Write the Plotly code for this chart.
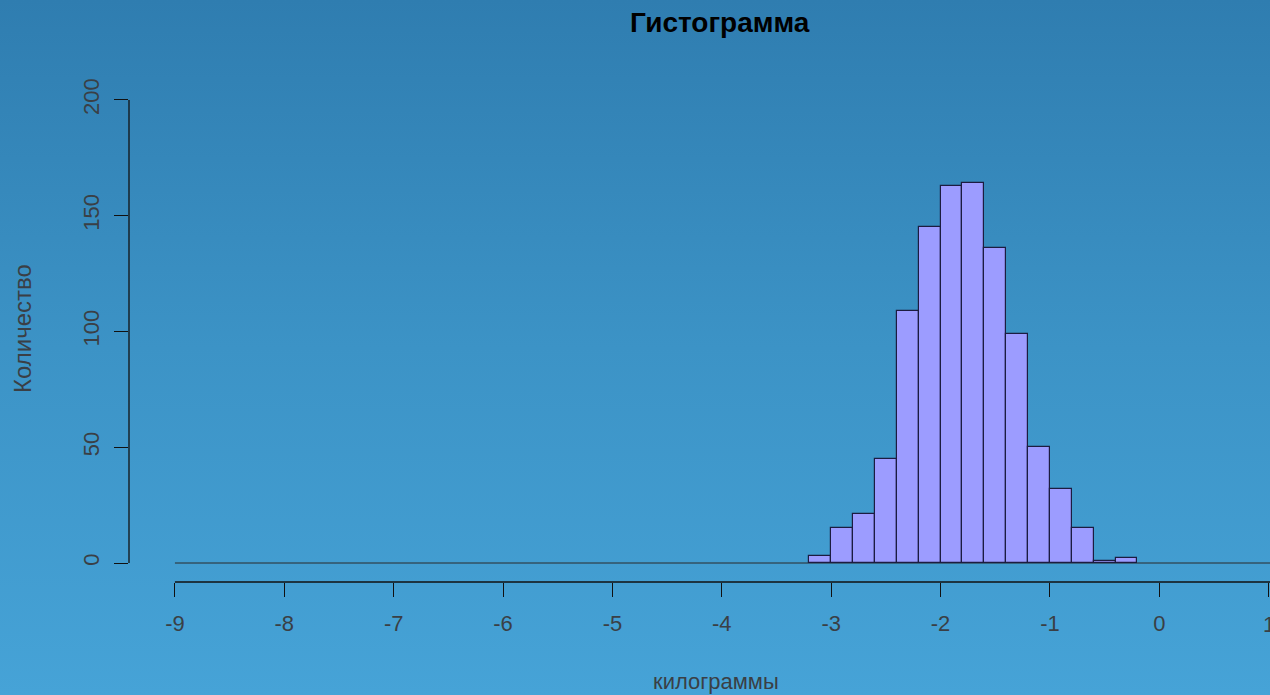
import base64
import plotly.graph_objects as go

# ---- data ----
bin_left_edges = [-3.2, -3.0, -2.8, -2.6, -2.4, -2.2, -2.0, -1.8, -1.6, -1.4, -1.2, -1.0, -0.8, -0.6, -0.4]
bin_width = 0.2
counts = [3, 15, 21, 45, 109, 145, 163, 164, 136, 99, 50, 32, 15, 1, 2]
x_ticks = [-9, -8, -7, -6, -5, -4, -3, -2, -1, 0, 1]
x_tick_labels = ["-9", "-8", "-7", "-6", "-5", "-4", "-3", "-2", "-1", "0", "1"]
y_ticks = [0, 50, 100, 150, 200]
y_tick_labels = ["0", "50", "100", "150", "200"]
hist_start = -9

title_text = "Гистограмма"
x_title = "килограммы"
y_title = "Количество"

# ---- layout geometry ----
W, H = 1270, 695
ML, MR, MT, MB = 129, 0, 90, 113
PW, PH = W - ML - MR, H - MT - MB
x_range = [-9.42, 1.012]
y_range = [-8.2, 204.3]

centers = [e + bin_width / 2 for e in bin_left_edges]

fig = go.Figure()
fig.add_trace(go.Bar(
    x=centers, y=counts, width=[bin_width] * len(counts),
    marker=dict(color="#9c9cff", line=dict(color="#1c1c40", width=1.2)),
    hoverinfo="x+y", showlegend=False,
))

# gradient background
svg = (
    f'<svg xmlns="http://www.w3.org/2000/svg" width="{W}" height="{H}" '
    f'viewBox="0 0 {W} {H}" preserveAspectRatio="none">'
    '<defs><linearGradient id="g" x1="0" y1="0" x2="0" y2="1">'
    '<stop offset="0" stop-color="#2f7db0"/>'
    '<stop offset="0.5" stop-color="#3c93c6"/>'
    '<stop offset="1" stop-color="#46a3d7"/>'
    '</linearGradient></defs>'
    f'<rect width="{W}" height="{H}" fill="url(#g)"/></svg>'
)
src = "data:image/svg+xml;base64," + base64.b64encode(svg.encode()).decode()

shapes = [
    # zero line of the histogram (empty bins)
    dict(type="line", xref="x", yref="y", x0=hist_start, x1=x_range[1], y0=0, y1=0,
         line=dict(color="#2a2a2a", width=1), layer="below"),
    # x axis line
    dict(type="line", xref="x", yref="paper", x0=x_ticks[0], x1=x_range[1], y0=0, y1=0,
         line=dict(color="#111111", width=1.3)),
    # y axis line
    dict(type="line", xref="paper", yref="y", x0=0, x1=0, y0=y_ticks[0], y1=y_ticks[-1],
         line=dict(color="#111111", width=1.3)),
]

txt_color = "#3a3f45"
tick_font = dict(family="Liberation Sans, Arial", size=22, color=txt_color)

annotations = [
    dict(text=title_text, xref="paper", yref="paper",
         x=(720 - ML) / PW, y=1 + (MT - 23) / PH, showarrow=False,
         xanchor="center", yanchor="middle",
         font=dict(family="Liberation Sans, Arial", size=28, color="#000000", weight="bold")),
    dict(text=x_title, xref="paper", yref="paper",
         x=(716 - ML) / PW, y=-(681 - (H - MB)) / PH, showarrow=False,
         xanchor="center", yanchor="middle",
         font=dict(family="Liberation Sans, Arial", size=22, color=txt_color)),
    dict(text=y_title, xref="paper", yref="paper",
         x=-(ML - 22) / PW, y=1 - (329 - MT) / PH, showarrow=False, textangle=-90,
         xanchor="center", yanchor="middle",
         font=dict(family="Liberation Sans, Arial", size=24, color=txt_color)),
    # last tick label, partly cut off at the right edge as in the reference
    dict(text=x_tick_labels[-1], xref="x", yref="paper",
         x=x_ticks[-1], y=-(624 - (H - MB)) / PH, showarrow=False,
         xanchor="center", yanchor="middle", font=tick_font),
]

fig.update_layout(
    width=W, height=H,
    margin=dict(l=ML, r=MR, t=MT, b=MB, pad=0),
    paper_bgcolor="#3c93c6",
    plot_bgcolor="rgba(0,0,0,0)",
    images=[dict(source=src, xref="paper", yref="paper",
                 x=-ML / PW, y=1 + MT / PH, sizex=W / PW, sizey=H / PH,
                 xanchor="left", yanchor="top", sizing="stretch", layer="below")],
    shapes=shapes,
    bargap=0,
    xaxis=dict(range=x_range, tickvals=x_ticks, ticktext=x_tick_labels,
               ticks="outside", ticklen=14, tickwidth=1.3, tickcolor="#111111",
               showgrid=False, zeroline=False, showline=False,
               tickfont=tick_font, ticklabelstandoff=8, fixedrange=True),
    yaxis=dict(range=y_range, tickvals=y_ticks, ticktext=y_tick_labels,
               ticks="outside", ticklen=14, tickwidth=1.3, tickcolor="#111111",
               showgrid=False, zeroline=False, showline=False, tickangle=-90,
               tickfont=tick_font, ticklabelstandoff=6, fixedrange=True),
    annotations=annotations,
)

fig.write_html("out.html", config={"displayModeBar": False},
               post_script="document.body.style.margin='0';document.body.style.overflow='hidden';")
